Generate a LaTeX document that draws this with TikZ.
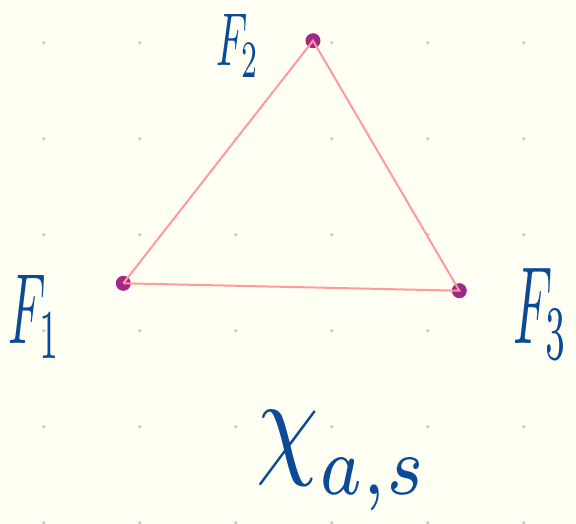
\documentclass[tikz,border=0pt]{standalone}
\begin{document}
\begin{tikzpicture}[x=1pt,y=-1pt,
  griddot/.style={circle,fill=gray!40,inner sep=0pt,minimum size=3.6pt},
  vertex/.style={circle,fill=vpurple,inner sep=0pt,minimum size=15pt},
  edge/.style={draw=epink,line width=2pt},
  lbl/.style={text=lblue,inner sep=0pt}]
\definecolor{bgc}{HTML}{FFFFF4}
\definecolor{vpurple}{HTML}{A1288B}
\definecolor{epink}{HTML}{FF9A9A}
\definecolor{lblue}{HTML}{0B4A96}
\fill[bgc] (0,0) rectangle (576,524);
\useasboundingbox (0,0) rectangle (576,524);
\foreach \i in {0,...,5}{\foreach \j in {0,...,5}{
  \node[griddot] at ({43.7+96*\i},{42.7+96*\j}) {};}}
\node[vertex] (F1) at (123.3,283.3) {};
\node[vertex] (F2) at (313,40.7) {};
\node[vertex] (F3) at (459.3,290.7) {};
\draw[edge] (F1.center) -- (F2.center) -- (F3.center) -- (F1.center);
\node[lbl] (L2) at (238,46) {\scalebox{4}[7.5]{$F_2$}};
\node[lbl] (L1) at (35,317) {\scalebox{4.8}[10]{$F_1$}};
\node[lbl] (L3) at (541,314) {\scalebox{5}[11]{$F_3$}};
\node[lbl] (LX) at (343,461) {\scalebox{10}[12]{$\chi_{\lower1.2pt\hbox{$\scriptstyle a,s$}}$}};
\end{tikzpicture}
\end{document}
